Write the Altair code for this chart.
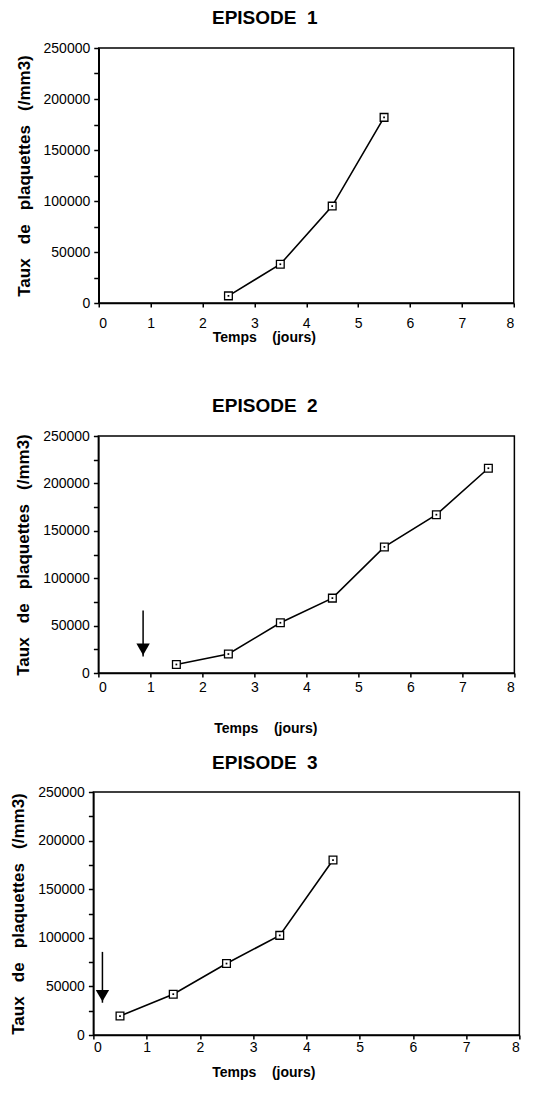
import altair as alt
import pandas as pd

# ---- data ----
ep1_days = [2.5, 3.5, 4.5, 5.5]
ep1_counts = [7000, 38000, 95000, 182000]

ep2_days = [1.5, 2.5, 3.5, 4.5, 5.5, 6.5, 7.5]
ep2_counts = [9000, 20000, 53000, 79000, 133000, 167000, 216000]

ep3_days = [0.5, 1.5, 2.5, 3.5, 4.5]
ep3_counts = [19500, 42000, 73500, 102500, 180000]

arrow2_day = [0.86]
arrow2_top = [66000]
arrow2_tip = [17500]

arrow3_day = [0.17]
arrow3_top = [85500]
arrow3_tip = [33200]

titles = ["EPISODE\u00a0\u00a01", "EPISODE\u00a0\u00a02", "EPISODE\u00a0\u00a03"]
x_title = "Temps\u00a0\u00a0\u00a0\u00a0(jours)"
y_title = "Taux\u00a0\u00a0\u00a0de\u00a0\u00a0\u00a0plaquettes\u00a0\u00a0\u00a0(/mm3)"
x_ticks = [i * 0.5 for i in range(17)]
y_ticks = [i * 25000 for i in range(11)]

FONT = "Liberation Sans"


def panel(days, counts, title, width, height, label_pad, title_pad, title_x,
          title_offset, arrow=None):
    df = pd.DataFrame({"day": days, "count": counts})
    xs = alt.Scale(domain=[0, 8], nice=False, zero=False)
    ys = alt.Scale(domain=[0, 250000], nice=False)
    xaxis = alt.Axis(values=x_ticks, format="d",
                     labelExpr="datum.value % 1 === 0 ? datum.label : ''",
                     grid=False, tickSize=4, tickWidth=1.5, labelPadding=label_pad,
                     title=x_title, titlePadding=title_pad, titleX=title_x,
                     labelAngle=0)
    yaxis = alt.Axis(values=y_ticks, format="d",
                     labelExpr="datum.value % 50000 === 0 ? datum.label : ''",
                     grid=False, tickSize=5, tickWidth=1.5, labelPadding=4,
                     title=y_title, titlePadding=10)
    X = alt.X("day:Q", scale=xs, axis=xaxis)
    Y = alt.Y("count:Q", scale=ys, axis=yaxis)
    base = alt.Chart(df)
    line = base.mark_line(color="black", strokeWidth=1.6).encode(x=X, y=Y)
    sq = base.mark_square(fill="white", stroke="black", strokeWidth=1.3,
                          size=60, opacity=1).encode(x=X, y=Y)
    dot = base.mark_square(color="black", size=3, opacity=1).encode(x=X, y=Y)
    layers = [line, sq, dot]
    if arrow is not None:
        adf = pd.DataFrame({"day": arrow[0], "count": arrow[1], "tip": arrow[2]})
        ab = alt.Chart(adf)
        shaft = ab.mark_rule(color="black", strokeWidth=1.5).encode(
            x=X, y=Y, y2=alt.Y2("tip:Q"))
        head = ab.mark_point(shape="triangle-down", filled=True, color="black",
                             size=180, opacity=1, yOffset=-7).encode(
            x=X, y=alt.Y("tip:Q", scale=ys, axis=yaxis))
        layers += [shaft, head]
    return alt.layer(*layers).properties(
        width=width, height=height,
        title=alt.TitleParams(title, fontSize=19, fontWeight="bold", font=FONT,
                              anchor="middle", frame="bounds", offset=title_offset,
                              color="black"),
    )


p1 = panel(ep1_days, ep1_counts, titles[0], 415, 255, 9, 0, 165, 13)
p2 = panel(ep2_days, ep2_counts, titles[1], 416, 237, 3, 27, 167, 13,
           arrow=(arrow2_day, arrow2_top, arrow2_tip))
p3 = panel(ep3_days, ep3_counts, titles[2], 426, 243, 1, 11, 170, 12,
           arrow=(arrow3_day, arrow3_top, arrow3_tip))

inner = alt.vconcat(p2, p3, spacing=17, center=True)
chart = alt.vconcat(p1, inner, spacing=51, center=True).properties(
    padding=0
).configure_view(
    stroke="black", strokeWidth=1.5
).configure_axis(
    domainColor="black", domainWidth=1.5, tickColor="black",
    labelFont=FONT, labelFontSize=14, labelColor="black",
    titleFont=FONT, titleFontSize=14, titleFontWeight="bold", titleColor="black",
).configure_axisY(
    titleFontSize=17
)

chart.save("out.html", embed_options={"renderer": "svg", "actions": False})
